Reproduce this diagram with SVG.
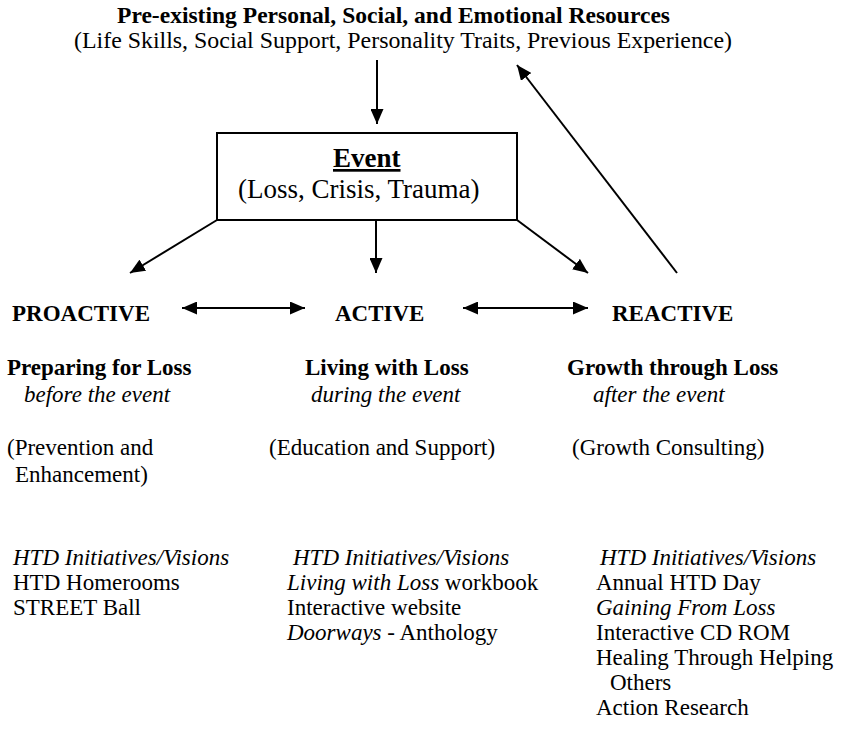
<svg xmlns="http://www.w3.org/2000/svg" width="842" height="731" viewBox="0 0 842 731">
<style>
text{font-family:"Liberation Serif","Times New Roman",serif;font-size:23px;fill:#000}
.b{font-weight:bold}
.i{font-style:italic}
.big{font-size:27px}
.ln{stroke:#000;stroke-width:2;fill:none}
</style>
<defs>
<marker id="ah" viewBox="0 0 15 13" refX="15" refY="6.5" markerWidth="15" markerHeight="13" markerUnits="userSpaceOnUse" orient="auto-start-reverse">
<path d="M0,0 L15,6.5 L0,13 Z" fill="#000"/>
</marker>
</defs>
<rect width="842" height="731" fill="#fff"/>

<g id="resources">
<text class="b" x="117" y="23" textLength="553" lengthAdjust="spacingAndGlyphs">Pre-existing Personal, Social, and Emotional Resources</text>
<text x="74" y="48" textLength="658" lengthAdjust="spacingAndGlyphs">(Life Skills, Social Support, Personality Traits, Previous Experience)</text>
</g>

<g id="event">
<rect x="217" y="133" width="300" height="87" fill="#fff" stroke="#000" stroke-width="2"/>
<text class="b big" x="333" y="167" text-decoration="underline">Event</text>
<text class="big" x="238" y="198">(Loss, Crisis, Trauma)</text>
</g>

<g id="proactive">
<text class="b" x="12" y="321">PROACTIVE</text>
<text class="b" x="7" y="375">Preparing for Loss</text>
<text class="i" x="24" y="402">before the event</text>
<text x="7" y="455">(Prevention and</text>
<text x="15" y="482">Enhancement)</text>
<text class="i" x="13" y="565">HTD Initiatives/Visions</text>
<text x="13" y="590">HTD Homerooms</text>
<text x="13" y="615">STREET Ball</text>
</g>

<g id="active">
<text class="b" x="335" y="321">ACTIVE</text>
<text class="b" x="305" y="375">Living with Loss</text>
<text class="i" x="311" y="402">during the event</text>
<text x="269" y="455">(Education and Support)</text>
<text class="i" x="293" y="565">HTD Initiatives/Visions</text>
<text x="287" y="590"><tspan class="i">Living with Loss</tspan> workbook</text>
<text x="287" y="615">Interactive website</text>
<text x="287" y="640"><tspan class="i">Doorways</tspan> - Anthology</text>
</g>

<g id="reactive">
<text class="b" x="612" y="321">REACTIVE</text>
<text class="b" x="567" y="375">Growth through Loss</text>
<text class="i" x="593" y="402">after the event</text>
<text x="572" y="455">(Growth Consulting)</text>
<text class="i" x="600" y="565">HTD Initiatives/Visions</text>
<text x="596" y="590">Annual HTD Day</text>
<text class="i" x="596" y="615">Gaining From Loss</text>
<text x="596" y="640">Interactive CD ROM</text>
<text x="596" y="665">Healing Through Helping</text>
<text x="610" y="690">Others</text>
<text x="596" y="715">Action Research</text>
</g>

<g id="connectors">
<line class="ln" x1="377" y1="60" x2="377" y2="124" marker-end="url(#ah)"/>
<line class="ln" x1="217" y1="220" x2="130" y2="273" marker-end="url(#ah)"/>
<line class="ln" x1="376" y1="220" x2="376" y2="273" marker-end="url(#ah)"/>
<line class="ln" x1="517" y1="220" x2="588" y2="273" marker-end="url(#ah)"/>
<line class="ln" x1="677" y1="273" x2="517" y2="65" marker-end="url(#ah)"/>
<line class="ln" x1="182" y1="308" x2="305" y2="308" marker-start="url(#ah)" marker-end="url(#ah)"/>
<line class="ln" x1="463" y1="308" x2="588" y2="308" marker-start="url(#ah)" marker-end="url(#ah)"/>
</g>
</svg>
